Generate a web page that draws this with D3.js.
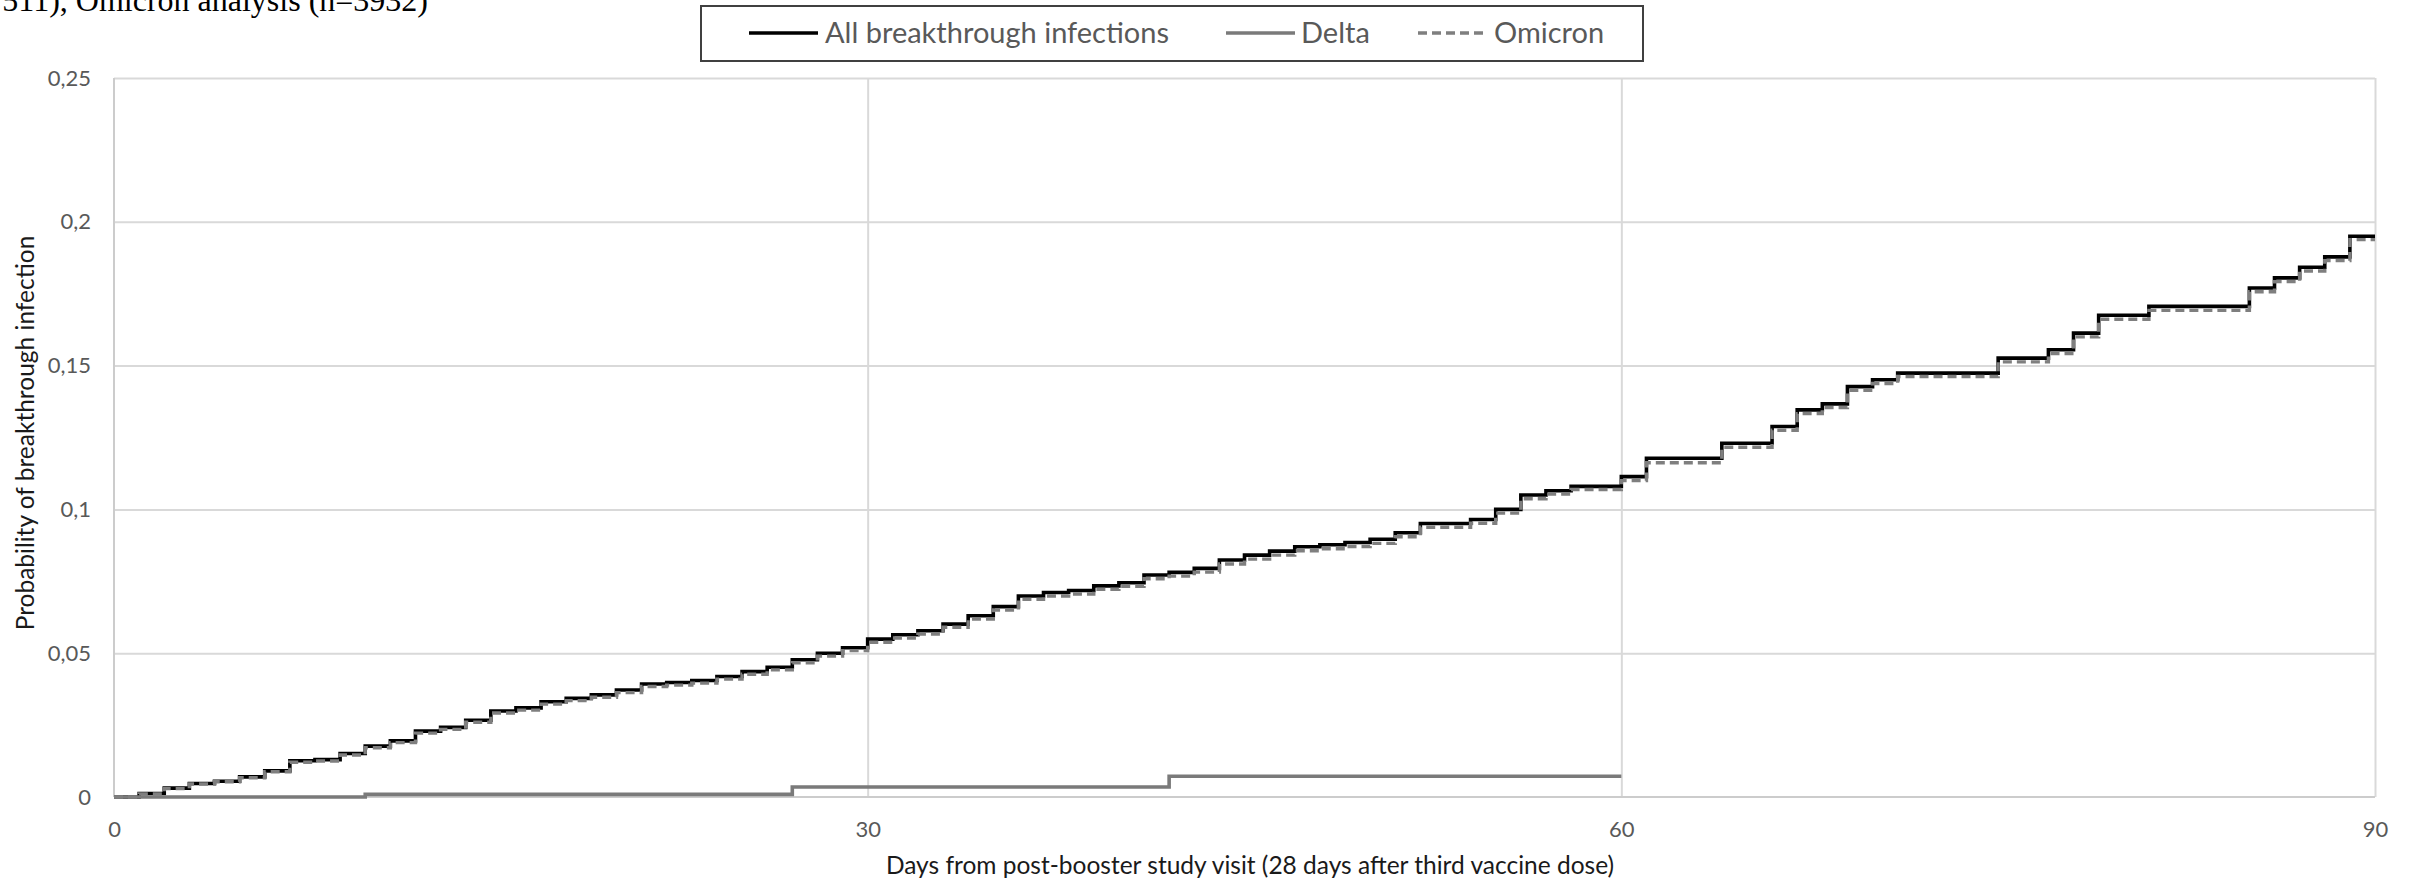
<!DOCTYPE html>
<html><head><meta charset="utf-8">
<script src="https://cdn.jsdelivr.net/npm/d3@7"></script>
<style>html,body{margin:0;padding:0;background:#fff;overflow:hidden}</style>
</head><body>
<svg id="chart" width="2409" height="883"></svg>
<script>
// ---- data ----
const days = [0,1,2,3,4,5,6,7,8,9,10,11,12,13,14,15,16,17,18,19,20,21,22,23,24,25,26,27,28,29,30,
  31,32,33,34,35,36,37,38,39,40,41,42,43,44,45,46,47,48,49,50,51,52,53,54,55,56,57,58,59,60,
  61,62,63,64,65,66,67,68,69,70,71,72,73,74,75,76,77,78,79,80,81,82,83,84,85,86,87,88,89,90];
const allInfections = [0,0.0012,0.0031,0.0047,0.0055,0.0070,0.0091,0.0126,0.0130,0.0151,
  0.0177,0.0195,0.0229,0.0242,0.0267,0.0299,0.0310,0.0331,0.0343,0.0355,
  0.0372,0.0393,0.0398,0.0405,0.0419,0.0436,0.0451,0.0477,0.0500,0.0519,
  0.0549,0.0564,0.0578,0.0601,0.0630,0.0662,0.0699,0.0711,0.0718,0.0734,
  0.0745,0.0772,0.0781,0.0795,0.0824,0.0841,0.0855,0.0870,0.0877,0.0885,
  0.0896,0.0919,0.0951,0.0951,0.0965,0.1000,0.1050,0.1065,0.1080,0.1080,
  0.1114,0.1178,0.1178,0.1178,0.1230,0.1230,0.1288,0.1346,0.1367,0.1427,
  0.1451,0.1474,0.1474,0.1474,0.1474,0.1526,0.1526,0.1555,0.1613,0.1675,
  0.1675,0.1706,0.1706,0.1706,0.1706,0.1770,0.1805,0.1842,0.1878,0.1950,0.1950];
const omicron = [0,0.0011,0.0029,0.0045,0.0053,0.0067,0.0088,0.0121,0.0125,0.0146,
  0.0171,0.0189,0.0222,0.0235,0.0260,0.0292,0.0302,0.0323,0.0335,0.0347,
  0.0363,0.0384,0.0389,0.0396,0.0410,0.0427,0.0442,0.0467,0.0490,0.0509,
  0.0538,0.0553,0.0567,0.0590,0.0619,0.0650,0.0687,0.0699,0.0706,0.0722,
  0.0733,0.0759,0.0768,0.0782,0.0810,0.0827,0.0841,0.0856,0.0863,0.0871,
  0.0882,0.0905,0.0938,0.0938,0.0952,0.0987,0.1037,0.1053,0.1069,0.1069,
  0.1100,0.1162,0.1162,0.1162,0.1216,0.1216,0.1275,0.1333,0.1354,0.1414,
  0.1438,0.1462,0.1462,0.1462,0.1462,0.1513,0.1513,0.1542,0.1600,0.1661,
  0.1661,0.1692,0.1692,0.1692,0.1692,0.1757,0.1792,0.1829,0.1865,0.1938,0.1938];
const deltaDays = [0,10,27,42,60];
const delta = [0,0.0009,0.0035,0.0072,0.0072];
const xTicks = [0,30,60,90];
const yTicks = [0,0.05,0.1,0.15,0.2,0.25];
const seriesNames = ["All breakthrough infections","Delta","Omicron"];
const xTitle = "Days from post-booster study visit (28 days after third vaccine dose)";
const yTitle = "Probability of breakthrough infection";
const topNote = "511), Omicron analysis (n=3932)";

// ---- layout ----
const svg = d3.select("#chart");
svg.append("rect").attr("width",2409).attr("height",883).attr("fill","#fff");
const x = d3.scaleLinear().domain([0,90]).range([114,2375]);
const y = d3.scaleLinear().domain([0,0.25]).range([797,78]);
const sans = "Lato, 'Open Sans', sans-serif";
const fmt = v => String(+v.toFixed(2)).replace(".", ",");

// gridlines
svg.append("g").attr("transform","translate(114,0)")
  .call(d3.axisLeft(y).tickValues(yTicks.slice(1)).tickSize(-(2375-114)).tickFormat(""))
  .call(g=>g.select(".domain").remove())
  .call(g=>g.selectAll("line").attr("stroke","#d9d9d9").attr("stroke-width",2));
svg.append("g").attr("transform","translate(0,797)")
  .call(d3.axisBottom(x).tickValues(xTicks.slice(1)).tickSize(-(797-78)).tickFormat(""))
  .call(g=>g.select(".domain").remove())
  .call(g=>g.selectAll("line").attr("stroke","#d9d9d9").attr("stroke-width",2));
// axis lines
svg.append("line").attr("x1",x(0)).attr("x2",x(0)).attr("y1",y(0.25)).attr("y2",y(0))
  .attr("stroke","#cccccc").attr("stroke-width",2);
svg.append("line").attr("x1",x(0)).attr("x2",x(90)).attr("y1",y(0)).attr("y2",y(0))
  .attr("stroke","#cccccc").attr("stroke-width",2);

// tick labels
svg.append("g").attr("transform","translate(114,0)")
  .call(d3.axisLeft(y).tickValues(yTicks).tickSize(0).tickPadding(23).tickFormat(fmt))
  .call(g=>g.select(".domain").remove())
  .call(g=>g.selectAll("text").attr("fill","#595959").style("font-family",sans).style("font-size","22px"));
svg.append("g").attr("transform","translate(0,797)")
  .call(d3.axisBottom(x).tickValues(xTicks).tickSize(0).tickPadding(24).tickFormat(d3.format("d")))
  .call(g=>g.select(".domain").remove())
  .call(g=>g.selectAll("text").attr("fill","#595959").style("font-family",sans).style("font-size","22px"));

// axis titles
svg.append("text").attr("x",1250).attr("y",874).attr("text-anchor","middle")
  .style("font-family",sans).style("font-size","24.5px").attr("fill","#1a1a1a").text(xTitle);
svg.append("text").attr("transform","translate(34,433) rotate(-90)").attr("text-anchor","middle")
  .style("font-family",sans).style("font-size","24.5px").attr("fill","#1a1a1a").text(yTitle);

// top note (cut off at the top, as in the source figure)
svg.append("text").attr("x",428).attr("y",11).attr("text-anchor","end")
  .style("font-family","'Liberation Serif', 'Times New Roman', serif").style("font-size","32px")
  .attr("fill","#000").text(topNote);

// series
const line = d3.line().x(d=>x(d[0])).y(d=>y(d[1])).curve(d3.curveStepAfter);
svg.append("path").datum(days.map((d,i)=>[d,allInfections[i]])).attr("d",line)
  .attr("fill","none").attr("stroke","#000").attr("stroke-width",3.6);
svg.append("path").datum(deltaDays.map((d,i)=>[d,delta[i]])).attr("d",line)
  .attr("fill","none").attr("stroke","#7a7a7a").attr("stroke-width",3.6);
svg.append("path").datum(days.map((d,i)=>[d,omicron[i]])).attr("d",line)
  .attr("fill","none").attr("stroke","#7f7f7f").attr("stroke-width",3.4).attr("stroke-dasharray","9,5");

// legend
const lg = svg.append("g");
lg.append("rect").attr("x",701).attr("y",6).attr("width",942).attr("height",55)
  .attr("fill","#fff").attr("stroke","#404040").attr("stroke-width",2);
const legendItems = [
  {name:seriesNames[0], x1:749, x2:818, tx:825, color:"#000", dash:null},
  {name:seriesNames[1], x1:1226, x2:1295, tx:1301, color:"#7a7a7a", dash:null},
  {name:seriesNames[2], x1:1418, x2:1487, tx:1494, color:"#7f7f7f", dash:"9,5"}
];
legendItems.forEach(it=>{
  lg.append("line").attr("x1",it.x1).attr("x2",it.x2).attr("y1",33).attr("y2",33)
    .attr("stroke",it.color).attr("stroke-width",3.6).attr("stroke-dasharray",it.dash);
  lg.append("text").attr("x",it.tx).attr("y",43).style("font-family",sans).style("font-size","29px")
    .attr("fill","#595959").text(it.name);
});
</script>
</body></html>
